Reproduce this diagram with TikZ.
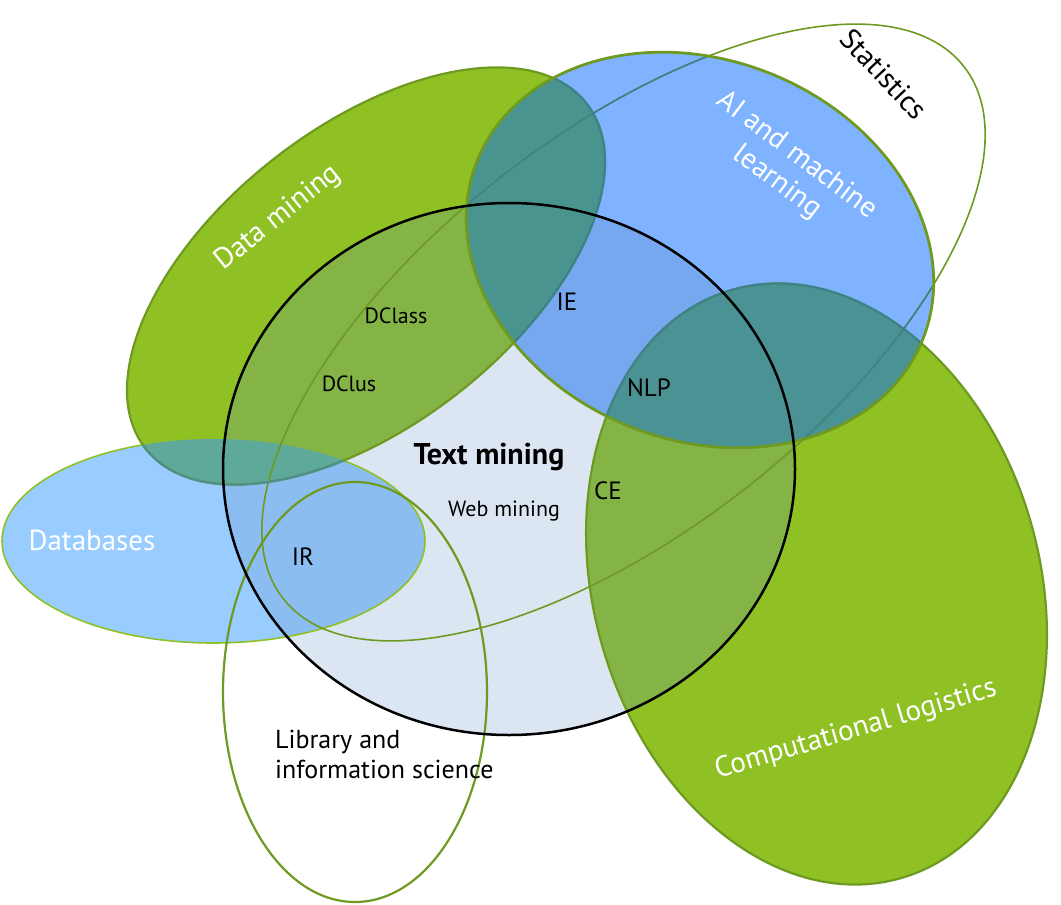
\documentclass[tikz,border=0pt]{standalone}
\usepackage{fontspec}
\setmainfont{PT Sans}
\definecolor{cTM}{HTML}{DCE6F2}
\definecolor{cDB}{HTML}{99CCFF}
\definecolor{cDBTM}{HTML}{8BBDF0}
\definecolor{cDM}{HTML}{8FC125}
\definecolor{cDMTM}{HTML}{84B446}
\definecolor{cDMDB}{HTML}{5EA99A}
\definecolor{cAI}{HTML}{80B3FF}
\definecolor{cAITM}{HTML}{75A8EE}
\definecolor{cAIDM}{HTML}{4A9490}
\definecolor{cCL}{HTML}{8FC125}
\definecolor{cCLTM}{HTML}{84B446}
\definecolor{cCLAI}{HTML}{4A9293}
\definecolor{lineOlive}{HTML}{6E9A22}
\definecolor{lineTeal}{HTML}{3B8191}
\definecolor{lineDBDM}{HTML}{4D8F8A}
\definecolor{dbLine}{HTML}{8FC126}
\newcommand\shTM{(509,469) ellipse [x radius=286pt, y radius=266pt]}
\newcommand\shDB{(213.5,541) ellipse [x radius=211.5pt, y radius=102pt]}
\newcommand\shDM{[rotate around={38:(366,276)}] (366,276) ellipse [x radius=280pt, y radius=149pt]}
\newcommand\shAI{[rotate around={-22:(700,250)}] (700,250) ellipse [x radius=240pt, y radius=190pt]}
\newcommand\shCL{[rotate around={16:(816.5,584)}] (816.5,584) ellipse [x radius=223pt, y radius=306pt]}
\newcommand\shLIS{(355,692) ellipse [x radius=132pt, y radius=210pt]}
\newcommand\shST{[rotate around={38:(623.5,332.5)}] (623.5,332.5) ellipse [x radius=432pt, y radius=198pt]}
\begin{document}
\begin{tikzpicture}[x=1pt,y=-1pt,
  big/.style={inner sep=0pt, font=\fontsize{29}{33}\selectfont},
  mid/.style={inner sep=0pt, font=\fontsize{25}{30}\selectfont},
  small/.style={inner sep=0pt, font=\fontsize{22}{26}\selectfont},
  thinline/.style={line width=1.6pt},
  midline/.style={line width=2.2pt},
  thickline/.style={line width=2.8pt}]
\useasboundingbox (0,0) rectangle (1061,905);
% fills
\fill[cTM] \shTM;
\fill[cDB] \shDB;
\begin{scope}\clip \shTM; \fill[cDBTM] \shDB; \end{scope}
\draw[dbLine, thinline] \shDB;
\fill[cDM] \shDM;
\begin{scope}\clip \shTM; \fill[cDMTM] \shDM; \end{scope}
\begin{scope}\clip \shDB; \fill[cDMDB] \shDM; \end{scope}
\fill[cAI] \shAI;
\begin{scope}\clip \shTM; \fill[cAITM] \shAI; \end{scope}
\begin{scope}\clip \shDM; \fill[cAIDM] \shAI; \end{scope}
\fill[cCL] \shCL;
\begin{scope}\clip \shTM; \fill[cCLTM] \shCL; \end{scope}
\begin{scope}\clip \shAI; \fill[cCLAI] \shCL; \end{scope}
% outlines
\draw[lineOlive, thinline] \shST;
\draw[lineOlive, midline] \shLIS;
\draw[lineOlive, midline] \shDM;
\begin{scope}\clip \shDB; \draw[lineDBDM, midline] \shDM; \end{scope}
\draw[lineOlive, midline] \shCL;
\begin{scope}\clip \shAI;
  \draw[lineTeal, thinline] \shST;
  \draw[lineTeal, midline] \shDM;
  \draw[lineTeal, midline] \shCL;
\end{scope}
\draw[lineOlive, thickline] \shAI;
\draw[black, line width=2.5pt] \shTM;
% labels
\node[big, white, rotate=38.6] (ldm) at (278,218) {Data mining};
\node[big, white, rotate=-37, align=center] (lai) at (787,169) {AI and machine\\learning};
\node[big, black, rotate=-46.7] (lst) at (884,74) {Statistics};
\node[big, white] (ldb) at (92,540) {Databases};
\node[big, white, rotate=16.5] (lcl) at (856,730) {Computational logistics};
\node[inner sep=0pt, font=\fontsize{26}{30}\selectfont, black, anchor=north west, align=left] (llis) at (275,730) {Library and\\information science};
\node[inner sep=0pt, black, font=\fontsize{30}{34}\selectfont\bfseries] (ltm) at (489,457) {Text mining};
\node[small, black] (lweb) at (504,511) {Web mining};
\node[small, black] (ldclass) at (396,316) {DClass};
\node[small, black] (ldclus) at (349,384) {DClus};
\node[mid, black] (lie) at (567,302) {IE};
\node[mid, black] (lnlp) at (649,388) {NLP};
\node[mid, black] (lce) at (608,491) {CE};
\node[mid, black] (lir) at (303,557) {IR};
\end{tikzpicture}
\end{document}
